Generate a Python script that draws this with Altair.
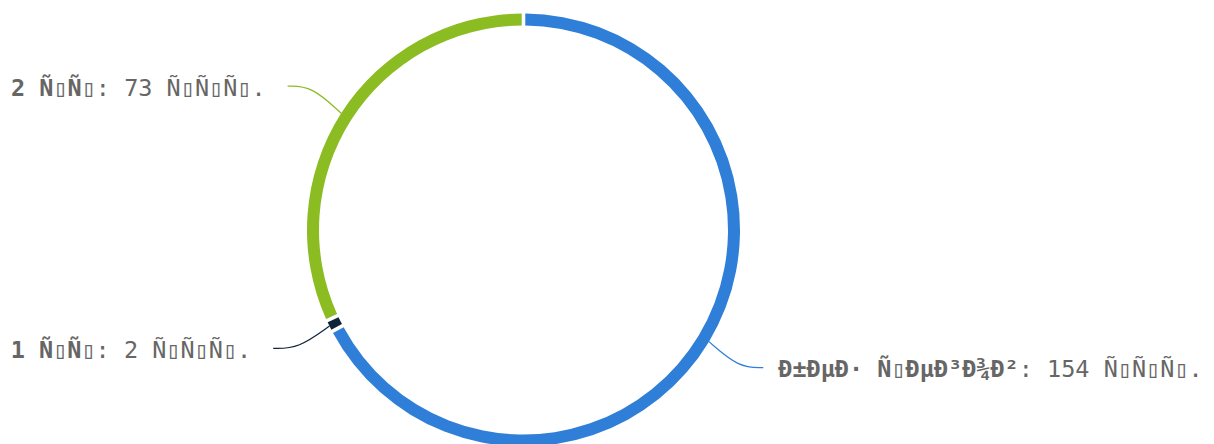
import altair as alt
import numpy as np
import pandas as pd

# ---- data ----
B = "\u25af"  # undisplayable byte, shown as an empty box in the reference
bold_parts = ["\u00d0\u00b1\u00d0\u00b5\u00d0\u00b7 \u00d1" + B + "\u00d0\u00b5\u00d0\u00b3\u00d0\u00be\u00d0\u00b2",
              "1 \u00d1" + B + "\u00d1" + B,
              "2 \u00d1" + B + "\u00d1" + B]
rest_parts = [": 154 \u00d1" + B + "\u00d1" + B + "\u00d1" + B + ".",
              ": 2 \u00d1" + B + "\u00d1" + B + "\u00d1" + B + ".",
              ": 73 \u00d1" + B + "\u00d1" + B + "\u00d1" + B + "."]
values = [154, 2, 73]
colors = ["#2f7ed8", "#0d233a", "#8bbc21"]

# ---- layout constants ----
W, H = 1198, 436
CX, CY = 523.5, 230
R_OUT, R_IN = 216.5, 204.5
R_LABEL = 267
FONT = 23.5
CW = 0.602 * FONT
GAP_L, GAP_R = 22, 15
TEXT_DY = 2.5

vals = np.array(values, dtype=float)
t1 = np.cumsum(vals) / vals.sum() * 2 * np.pi
t0 = t1 - vals / vals.sum() * 2 * np.pi
mid = (t0 + t1) / 2

arcs = pd.DataFrame({"t0": t0, "t1": t1, "color": colors,
                     "cx": CX, "cy": CY, "k": range(len(values))})

line_rows, text_rows = [], []
for i, th in enumerate(mid):
    s = 1 if np.sin(th) >= 0 else -1
    ax, ay = CX + R_OUT * np.sin(th), CY - R_OUT * np.cos(th)
    ly = CY - R_LABEL * np.cos(th)
    ex = CX + R_LABEL * np.sin(th) + 11 * s
    kx = ax + (ex - ax) * 0.55
    for j, (px, py) in enumerate([(ax, ay), (kx, ly), (ex, ly)]):
        line_rows.append({"x": px, "y": py, "k": i, "o": j, "color": colors[i]})
    if s > 0:
        bx = ex + GAP_R
        nx = bx + len(bold_parts[i]) * CW
    else:
        end = ex - GAP_L
        nx = end - len(rest_parts[i]) * CW
        bx = nx - len(bold_parts[i]) * CW
    text_rows.append({"x": bx, "y": ly + TEXT_DY, "t": bold_parts[i], "w": "bold"})
    text_rows.append({"x": nx, "y": ly + TEXT_DY, "t": rest_parts[i], "w": "normal"})

lines = pd.DataFrame(line_rows)
texts = pd.DataFrame(text_rows)

XS = alt.Scale(domain=[8, 8 + W], nice=False, zero=False)
YS = alt.Scale(domain=[8, 8 + H], nice=False, zero=False, reverse=True)

arc = alt.Chart(arcs).mark_arc(outerRadius=R_OUT, innerRadius=R_IN, padAngle=0.012).encode(
    x=alt.X("cx:Q", scale=XS, axis=None),
    y=alt.Y("cy:Q", scale=YS, axis=None),
    theta=alt.Theta("t0:Q", scale=None),
    theta2="t1:Q",
    color=alt.Color("color:N", scale=None),
)

conn = alt.Chart(lines).mark_line(strokeWidth=1.2, interpolate="basis").encode(
    x=alt.X("x:Q", scale=XS, axis=None),
    y=alt.Y("y:Q", scale=YS, axis=None),
    detail="k:N",
    order="o:Q",
    color=alt.Color("color:N", scale=None),
)

bold_t = alt.Chart(texts[texts.w == "bold"]).mark_text(
    align="left", baseline="middle", font="DejaVu Sans Mono", fontSize=FONT,
    fontWeight="bold", color="#666666").encode(
    x=alt.X("x:Q", scale=XS, axis=None),
    y=alt.Y("y:Q", scale=YS, axis=None),
    text="t:N",
)
norm_t = alt.Chart(texts[texts.w == "normal"]).mark_text(
    align="left", baseline="middle", font="DejaVu Sans Mono", fontSize=FONT,
    color="#666666").encode(
    x=alt.X("x:Q", scale=XS, axis=None),
    y=alt.Y("y:Q", scale=YS, axis=None),
    text="t:N",
)

chart = alt.layer(arc, conn, bold_t, norm_t).properties(
    width=W, height=H, padding=0, autosize=alt.AutoSizeParams(type="none")
).configure_view(stroke=None)

chart.save("out.html", embed_options={"renderer": "svg", "actions": False})
